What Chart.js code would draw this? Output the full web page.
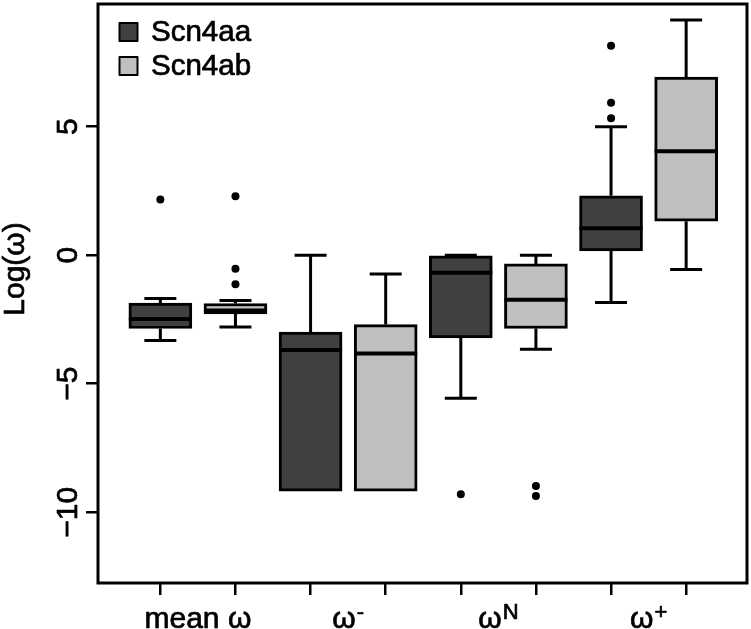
<!DOCTYPE html>
<html><head><meta charset="utf-8">
<script src="https://cdn.jsdelivr.net/npm/chart.js@4/dist/chart.umd.min.js"></script>
<style>html,body{margin:0;padding:0;background:#fff;} canvas{display:block;}</style>
</head><body>
<canvas id="c" width="751" height="629"></canvas>
<script>
// ---- data ----
const groupLabels = ['mean ω', 'ω', 'ω', 'ω'];
const groupSup = ['', '-', 'N', '+'];
const seriesNames = ['Scn4aa', 'Scn4ab'];
const yTicks = [-10, -5, 0, 5];
const yTitle = 'Log(ω)';

const aaMin = [-3.32, -9.18, -5.56, -1.84];
const aaQ1  = [-2.85, -9.18, -3.22, 0.17];
const aaMed = [-2.48, -3.69, -0.68, 1.05];
const aaQ3  = [-1.86, -2.99, -0.02, 2.31];
const aaMax = [-1.68, 0.00, 0.00, 5.00];
const aaOut = [[2.17], [], [-9.30], [8.15, 5.93, 5.33]];

const abMin = [-2.79, -9.18, -3.66, -0.56];
const abQ1  = [-2.28, -9.18, -2.85, 1.32];
const abMed = [-2.15, -3.82, -1.73, 4.04];
const abQ3  = [-1.88, -2.70, -0.34, 6.93];
const abMax = [-1.76, -0.73, 0.00, 9.15];
const abOut = [[2.29, -0.53, -1.13], [], [-8.98, -9.37], []];

// ---- style ----
const FONT = "'Liberation Sans', Arial, Helvetica, sans-serif";
const colors = ['#404040', '#bfbfbf'];
const BOX_W = 63;
const CAP_W = 32;

const series = [
  {min: aaMin, q1: aaQ1, med: aaMed, q3: aaQ3, max: aaMax, out: aaOut},
  {min: abMin, q1: abQ1, med: abMed, q3: abQ3, max: abMax, out: abOut}
];
const slot = (g, s) => 2 * g + 1 + s;

const outlierPts = [];
series.forEach((sr, s) => sr.out.forEach((arr, g) => arr.forEach(v => outlierPts.push({x: slot(g, s), y: v}))));

function heavyText(ctx, txt, x, y) {
  ctx.fillText(txt, x, y);
  ctx.strokeText(txt, x, y);
}

const boxPlugin = {
  id: 'boxplot',
  beforeDatasetsDraw(chart) {
    const {ctx, scales: {x, y}} = chart;
    ctx.save();
    ctx.strokeStyle = '#000';
    ctx.lineWidth = 3;
    ctx.lineCap = 'butt';
    series.forEach((sr, s) => sr.q1.forEach((_, g) => {
      const px = x.getPixelForValue(slot(g, s));
      const pMin = y.getPixelForValue(sr.min[g]), pMax = y.getPixelForValue(sr.max[g]);
      const pQ1 = y.getPixelForValue(sr.q1[g]), pQ3 = y.getPixelForValue(sr.q3[g]);
      ctx.beginPath();
      if (sr.max[g] > sr.q3[g]) {
        ctx.moveTo(px, pQ3); ctx.lineTo(px, pMax);
        ctx.moveTo(px - CAP_W / 2, pMax); ctx.lineTo(px + CAP_W / 2, pMax);
      }
      if (sr.min[g] < sr.q1[g]) {
        ctx.moveTo(px, pQ1); ctx.lineTo(px, pMin);
        ctx.moveTo(px - CAP_W / 2, pMin); ctx.lineTo(px + CAP_W / 2, pMin);
      }
      ctx.stroke();
    }));
    ctx.restore();
  },
  afterDatasetsDraw(chart) {
    const {ctx, scales: {x, y}} = chart;
    ctx.save();
    ctx.strokeStyle = '#000';
    ctx.lineWidth = 4;
    series.forEach((sr, s) => sr.med.forEach((m, g) => {
      const px = x.getPixelForValue(slot(g, s));
      const py = y.getPixelForValue(m);
      ctx.beginPath();
      ctx.moveTo(px - BOX_W / 2, py); ctx.lineTo(px + BOX_W / 2, py);
      ctx.stroke();
    }));
    ctx.restore();
  },
  afterDraw(chart) {
    const {ctx, chartArea: a, scales: {x, y}} = chart;
    ctx.save();
    // frame
    ctx.strokeStyle = '#000';
    ctx.lineWidth = 3;
    ctx.strokeRect(a.left, a.top, a.right - a.left, a.bottom - a.top);
    ctx.fillStyle = '#000';
    ctx.lineWidth = 0.7;
    ctx.lineJoin = 'round';
    // y tick labels (rotated)
    ctx.font = '30px ' + FONT;
    ctx.textAlign = 'center';
    ctx.textBaseline = 'alphabetic';
    y.ticks.forEach(t => {
      ctx.save();
      ctx.translate(77, y.getPixelForValue(t.value));
      ctx.rotate(-Math.PI / 2);
      heavyText(ctx, String(t.value).replace('-', '\u2212'), 0, 0);
      ctx.restore();
    });
    // y title
    ctx.save();
    ctx.translate(24, 269);
    ctx.rotate(-Math.PI / 2);
    heavyText(ctx, yTitle, 0, 0);
    ctx.restore();
    // x group labels with superscripts
    ctx.textAlign = 'left';
    groupLabels.forEach((lab, g) => {
      ctx.font = '30px ' + FONT;
      const wb = ctx.measureText(lab).width;
      ctx.font = '22px ' + FONT;
      const ws = groupSup[g] ? ctx.measureText(groupSup[g]).width + 1 : 0;
      const cx = x.getPixelForValue(2 * g + 1.5);
      const x0 = cx - (wb + ws) / 2;
      ctx.font = '30px ' + FONT;
      heavyText(ctx, lab, x0, 628);
      if (groupSup[g]) {
        ctx.font = '22px ' + FONT;
        heavyText(ctx, groupSup[g], x0 + wb + 1, 619);
      }
    });
    // legend
    ctx.font = '29.5px ' + FONT;
    seriesNames.forEach((name, s) => {
      const cy = 32 + s * 34;
      ctx.fillStyle = colors[s];
      ctx.fillRect(119.5, cy - 9, 18, 18);
      ctx.lineWidth = 2;
      ctx.strokeStyle = '#000';
      ctx.strokeRect(119.5, cy - 9, 18, 18);
      ctx.fillStyle = '#000';
      ctx.lineWidth = 0.7;
      heavyText(ctx, name, 151, cy + 8.5);
    });
    ctx.restore();
  }
};

const axisGrid = {offset: false, drawOnChartArea: false, drawTicks: true, tickLength: 12, tickColor: '#000', tickWidth: 2.5, color: '#000', lineWidth: 2.5};

new Chart(document.getElementById('c'), {
  type: 'bar',
  data: {
    datasets: [
      ...series.map((sr, s) => ({
        label: seriesNames[s],
        data: sr.q1.map((q, g) => ({x: slot(g, s), y: [q, sr.q3[g]]})),
        backgroundColor: colors[s],
        borderColor: '#000',
        borderWidth: 3,
        borderSkipped: false,
        barThickness: BOX_W,
        grouped: false
      })),
      {
        type: 'scatter',
        label: 'outliers',
        data: outlierPts,
        pointRadius: 4,
        backgroundColor: '#000',
        borderWidth: 0
      }
    ]
  },
  options: {
    responsive: false,
    animation: false,
    events: [],
    layout: {padding: {left: 0, top: 1, right: 3, bottom: 0}},
    plugins: {legend: {display: false}, tooltip: {enabled: false}},
    scales: {
      x: {
        type: 'linear', min: 0.17, max: 8.81, offset: false,
        afterBuildTicks: s => { s.ticks = [1, 2, 3, 4, 5, 6, 7, 8].map(v => ({value: v})); },
        ticks: {display: false},
        grid: axisGrid,
        border: {display: false},
        afterFit: s => { s.height = 46; }
      },
      y: {
        type: 'linear', min: -12.75, max: 9.77,
        afterBuildTicks: s => { s.ticks = yTicks.map(v => ({value: v})); },
        ticks: {display: false},
        grid: axisGrid,
        border: {display: false},
        afterFit: s => { s.width = 98; }
      }
    }
  },
  plugins: [boxPlugin]
});
</script>
</body></html>
